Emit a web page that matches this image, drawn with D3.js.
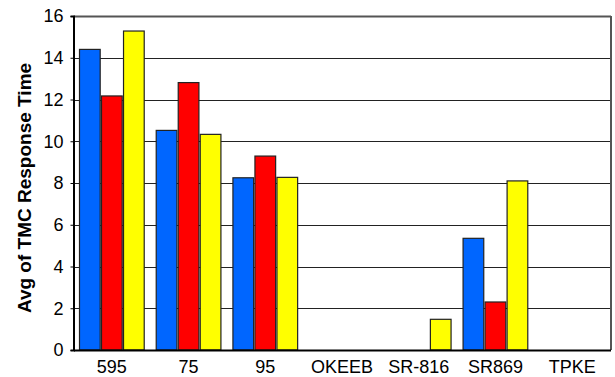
<!DOCTYPE html>
<html>
<head>
<meta charset="utf-8">
<script src="https://cdn.jsdelivr.net/npm/d3@7"></script>
<style>
  html, body { margin: 0; padding: 0; background: #fff; }
  svg { display: block; font-family: Arial, "Liberation Sans", sans-serif; }
</style>
</head>
<body>
<svg id="chart" width="615" height="377"></svg>
<script>
// Data
const categories = ["595", "75", "95", "OKEEB", "SR-816", "SR869", "TPKE"];
const seriesNames = ["Series 1", "Series 2", "Series 3"];
const series1 = [14.4, 10.52, 8.25, 0, 0, 5.35, 0];
const series2 = [12.17, 12.81, 9.29, 0, 0, 2.3, 0];
const series3 = [15.28, 10.33, 8.27, 0, 1.47, 8.1, 0];
const seriesColors = ["#0066FF", "#FF0000", "#FFFF00"];
const yTicks = [0, 2, 4, 6, 8, 10, 12, 14, 16];
const yTitle = "Avg of TMC Response Time";

const seriesValues = [series1, series2, series3];

const svg = d3.select("#chart");
const plotLeft = 73.5, plotRight = 610.5, plotTop = 16, plotBottom = 350;

const x0 = d3.scaleBand().domain(categories).range([plotLeft, plotRight]).padding(0);
const x1 = d3.scaleBand().domain(seriesNames)
  .range([6, x0.bandwidth() - 6]).paddingInner(0.06);
const y = d3.scaleLinear().domain([0, 16]).range([plotBottom, plotTop]);

// gridlines
svg.append("g")
  .selectAll("line")
  .data(yTicks.filter(t => t > 0 && t < 16))
  .join("line")
  .attr("x1", plotLeft).attr("x2", plotRight)
  .attr("y1", d => Math.round(y(d)) + 0.5).attr("y2", d => Math.round(y(d)) + 0.5)
  .attr("stroke", "#222").attr("stroke-width", 1);

// frame top/right
svg.append("line").attr("x1", plotLeft).attr("x2", plotRight + 0.5).attr("y1", plotTop + 0.5).attr("y2", plotTop + 0.5)
  .attr("stroke", "#555").attr("stroke-width", 2);
svg.append("line").attr("x1", plotRight + 0.5).attr("x2", plotRight + 0.5).attr("y1", plotTop).attr("y2", plotBottom)
  .attr("stroke", "#555").attr("stroke-width", 2);

// bars
const groups = svg.append("g").selectAll("g")
  .data(categories)
  .join("g")
  .attr("transform", d => `translate(${x0(d)},0)`);

groups.selectAll("rect")
  .data((c, i) => seriesNames.map((s, j) => ({ s, v: seriesValues[j][i], color: seriesColors[j] })).filter(d => d.v > 0))
  .join("rect")
  .attr("x", d => x1(d.s))
  .attr("y", d => y(d.v))
  .attr("width", x1.bandwidth())
  .attr("height", d => y(0) - y(d.v))
  .attr("fill", d => d.color)
  .attr("stroke", "#222")
  .attr("stroke-width", 1.2);

// y axis
const yAxis = d3.axisLeft(y).tickValues(yTicks).tickSize(3).tickPadding(7).tickFormat(d3.format("d"));
const ya = svg.append("g").attr("transform", `translate(${plotLeft},0)`).call(yAxis);
ya.select(".domain").attr("stroke", "#000").attr("stroke-width", 2);
ya.selectAll(".tick line").attr("stroke", "#000");
ya.selectAll("text").attr("font-size", 18).attr("fill", "#000")
  .attr("font-family", "Arial, 'Liberation Sans', sans-serif");

// x axis
const xAxis = d3.axisBottom(x0).tickSize(0).tickPadding(10);
const xa = svg.append("g").attr("transform", `translate(0,${plotBottom})`).call(xAxis);
xa.select(".domain").attr("stroke", "#000").attr("stroke-width", 2);
xa.selectAll("text").attr("font-size", 18).attr("fill", "#000")
  .attr("font-family", "Arial, 'Liberation Sans', sans-serif");

// y title
svg.append("text")
  .attr("transform", "translate(31,188) rotate(-90)")
  .attr("text-anchor", "middle")
  .attr("font-size", 19)
  .attr("font-weight", "bold")
  .attr("fill", "#000")
  .text(yTitle);
</script>
</body>
</html>
